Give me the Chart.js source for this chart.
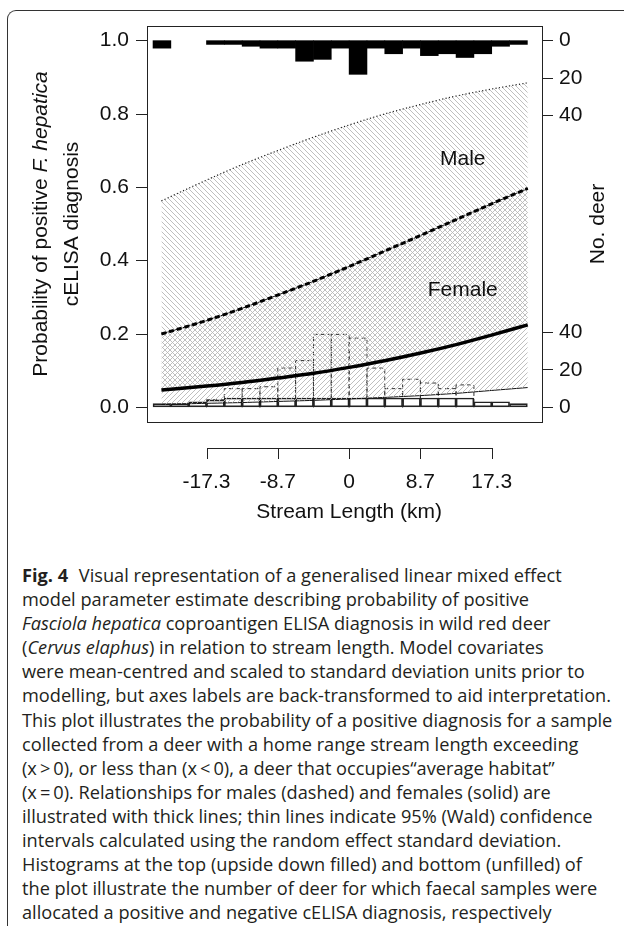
<!DOCTYPE html>
<html>
<head>
<meta charset="utf-8">
<script src="https://cdn.jsdelivr.net/npm/chart.js@4.4.1/dist/chart.umd.min.js"></script>
<style>
body { margin: 0; background: #fff; width: 624px; height: 932px; overflow: hidden; position: relative; }
#frame { position: absolute; left: 7px; top: 10px; width: 660px; height: 915px; border-left: 1.3px solid #333; border-top: 1.3px solid #333; border-top-left-radius: 9px; }
#c { position: absolute; left: 0; top: 0; }
#cap { position: absolute; left: 22px; top: 563px; font-family: "Open Sans"; font-size: 18.2px; letter-spacing: 0; line-height: 24.1px; color: #231f20; white-space: nowrap; }
#cap b { font-weight: 700; margin-right: 6px; }
</style>
</head>
<body>
<div id="frame"></div>
<canvas id="c" width="624" height="540"></canvas>
<div id="cap">
<div><b>Fig. 4</b> Visual representation of a generalised linear mixed effect</div>
<div>model parameter estimate describing probability of positive</div>
<div><i>Fasciola hepatica</i> coproantigen ELISA diagnosis in wild red deer</div>
<div>(<i>Cervus elaphus</i>) in relation to stream length. Model covariates</div>
<div>were mean-centred and scaled to standard deviation units prior to</div>
<div>modelling, but axes labels are back-transformed to aid interpretation.</div>
<div>This plot illustrates the probability of a positive diagnosis for a sample</div>
<div>collected from a deer with a home range stream length exceeding</div>
<div>(x&#8201;&gt;&#8201;0), or less than (x&#8201;&lt;&#8201;0), a deer that occupies&#8220;average habitat&#8221;</div>
<div>(x&#8201;=&#8201;0). Relationships for males (dashed) and females (solid) are</div>
<div>illustrated with thick lines; thin lines indicate 95% (Wald) confidence</div>
<div>intervals calculated using the random effect standard deviation.</div>
<div>Histograms at the top (upside down filled) and bottom (unfilled) of</div>
<div>the plot illustrate the number of deer for which faecal samples were</div>
<div>allocated a positive and negative cELISA diagnosis, respectively</div>
</div>
<script>
// stream length (km) where the fitted curves were read
var streamKm = [-22.8, -17.3, -13.0, -8.7, -4.3, 0, 4.3, 8.7, 13.0, 17.3, 21.7];
var maleFit = [0.200, 0.237, 0.270, 0.306, 0.344, 0.384, 0.426, 0.469, 0.512, 0.555, 0.597];
var maleUpper = [0.563, 0.620, 0.662, 0.700, 0.737, 0.770, 0.800, 0.826, 0.849, 0.868, 0.885];
var maleLower = [0.047, 0.058, 0.068, 0.080, 0.093, 0.109, 0.127, 0.148, 0.171, 0.197, 0.225];
var femaleFit = [0.047, 0.058, 0.068, 0.080, 0.093, 0.109, 0.127, 0.148, 0.171, 0.197, 0.225];
var femaleUpper = [0.200, 0.237, 0.270, 0.306, 0.344, 0.384, 0.426, 0.469, 0.512, 0.555, 0.597];
var femaleLower = [0.008, 0.011, 0.013, 0.016, 0.019, 0.023, 0.027, 0.032, 0.038, 0.046, 0.054];

// histogram bins (km) and deer counts
var binEdges = [-23.82, -21.65, -19.49, -17.32, -15.16, -12.99, -10.83, -8.66, -6.50, -4.33, -2.17,
                0, 2.17, 4.33, 6.50, 8.66, 10.83, 12.99, 15.16, 17.32, 19.49, 21.65];
var positiveCounts = [4, null, null, 2, 2, 3, 4, 4, 11, 10, 4, 18, 4, 7, 4, 8, 7, 9, 7, 3, 2];
var negativeSolid = [2, 2, 3, 4, 5, 5, 5, 5, 5, 5, 5, 5, 5, 5, 5, 5, 5, 5, 3, 3, 2];
var negativeDashed = [null, null, null, 4, 10, 10, 11, 21, 25, 39, 39, 37, 21, 10, 15, 13, 10, 12, null, null, null];

var probTicks = [0, 0.2, 0.4, 0.6, 0.8, 1.0];
var deerTicks = [0, 20, 40];
var xTicks = [-17.32, -8.66, 0, 8.66, 17.32];
var xTickLabels = ['-17.3', '-8.7', '0', '8.7', '17.3'];
var plotLabels = ['Male', 'Female'];
var labelX = [13.8, 13.8];
var labelY = [0.678, 0.32];

var deerUnit = 0.0051; // probability units per deer on the plot
var FONT = '"Liberation Sans", Arial, sans-serif';

var canvas = document.getElementById('c');
var ctx = canvas.getContext('2d');

function hatch(dir) {
  var t = document.createElement('canvas');
  t.width = 5; t.height = 5;
  var g = t.getContext('2d');
  g.strokeStyle = '#b8b8b8';
  g.lineWidth = 0.9;
  g.beginPath();
  if (dir > 0) {
    g.moveTo(0, 5); g.lineTo(5, 0);
    g.moveTo(-1, 1); g.lineTo(1, -1);
    g.moveTo(4, 6); g.lineTo(6, 4);
  } else {
    g.moveTo(0, 0); g.lineTo(5, 5);
    g.moveTo(-1, 4); g.lineTo(1, 6);
    g.moveTo(4, -1); g.lineTo(6, 1);
  }
  g.stroke();
  return ctx.createPattern(t, 'repeat');
}

function pts(ys) {
  return streamKm.map(function (x, i) { return { x: x, y: ys[i] }; });
}

var topBars = [], solidBars = [], dashedPath = [];
for (var i = 0; i < binEdges.length - 1; i++) {
  var mid = (binEdges[i] + binEdges[i + 1]) / 2;
  if (positiveCounts[i] != null) topBars.push({ x: mid, y: [1 - positiveCounts[i] * deerUnit, 1] });
  if (negativeSolid[i] != null) solidBars.push({ x: mid, y: [0, negativeSolid[i] * deerUnit] });
  if (negativeDashed[i] != null) {
    var h = negativeDashed[i] * deerUnit;
    dashedPath.push({ x: binEdges[i], y: 0 }, { x: binEdges[i], y: h },
                    { x: binEdges[i + 1], y: h }, { x: binEdges[i + 1], y: 0 });
  }
}

var rightTickValues = [];
var rightTickLabels = [];
deerTicks.forEach(function (d) { rightTickValues.push(1 - d * deerUnit); rightTickLabels.push(String(d)); });
deerTicks.slice().reverse().forEach(function (d) { rightTickValues.push(d * deerUnit); rightTickLabels.push(String(d)); });

var decor = {
  id: 'decor',
  afterDraw: function (chart) {
    var c = chart.ctx, a = chart.chartArea, xs = chart.scales.x, ys = chart.scales.y;
    c.save();
    c.strokeStyle = '#222';
    c.lineWidth = 1;
    c.strokeRect(Math.round(a.left) + 0.5, Math.round(a.top) + 0.5, Math.round(a.right - a.left), Math.round(a.bottom - a.top));

    // stream length axis, set below the box
    var y0 = Math.round(a.bottom) + 26;
    var x1 = xs.getPixelForValue(xTicks[0]);
    var x2 = xs.getPixelForValue(xTicks[xTicks.length - 1]);
    c.beginPath();
    c.moveTo(Math.round(x1) + 0.5, y0 + 0.5);
    c.lineTo(Math.round(x2) + 0.5, y0 + 0.5);
    xTicks.forEach(function (v) {
      var p = Math.round(xs.getPixelForValue(v)) + 0.5;
      c.moveTo(p, y0);
      c.lineTo(p, y0 + 11);
    });
    c.stroke();
    c.fillStyle = '#111';
    c.font = '21px ' + FONT;
    c.textAlign = 'center';
    c.textBaseline = 'middle';
    xTicks.forEach(function (v, i) { c.fillText(xTickLabels[i], xs.getPixelForValue(v), y0 + 34); });
    c.fillText('Stream Length (km)', (x1 + x2) / 2, y0 + 64);

    plotLabels.forEach(function (t, i) {
      c.fillText(t, xs.getPixelForValue(labelX[i]), ys.getPixelForValue(labelY[i]));
    });

    var cy = (a.top + a.bottom) / 2;
    function vtext(parts, cx) {
      c.save();
      c.translate(cx, cy);
      c.rotate(-Math.PI / 2);
      c.textAlign = 'left';
      var w = 0;
      parts.forEach(function (p) { c.font = p[1] + '21px ' + FONT; w += c.measureText(p[0]).width; });
      var x = -w / 2;
      parts.forEach(function (p) { c.font = p[1] + '21px ' + FONT; c.fillText(p[0], x, 0); x += c.measureText(p[0]).width; });
      c.restore();
    }
    vtext([['Probability of positive ', ''], ['F. hepatica', 'italic ']], 41);
    vtext([['cELISA diagnosis', '']], 72);
    vtext([['No. deer', '']], 598);
    c.restore();
  }
};

new Chart(ctx, {
  type: 'line',
  data: {
    datasets: [
      { label: 'Male upper CI', data: pts(maleUpper), borderColor: '#222', borderWidth: 1.2, borderDash: [1.2, 2.2],
        fill: 1, backgroundColor: hatch(-1), cubicInterpolationMode: 'monotone', order: 1 },
      { label: 'Male lower CI', data: pts(maleLower), borderColor: 'rgba(0,0,0,0)', borderWidth: 0,
        cubicInterpolationMode: 'monotone', order: 1 },
      { label: 'Female upper CI', data: pts(femaleUpper), borderColor: '#111', borderWidth: 1,
        fill: 3, backgroundColor: hatch(1), cubicInterpolationMode: 'monotone', order: 1 },
      { label: 'Female lower CI', data: pts(femaleLower), borderColor: '#111', borderWidth: 1,
        cubicInterpolationMode: 'monotone', order: 1 },
      { label: 'Male', data: pts(maleFit), borderColor: '#000', borderWidth: 3, borderDash: [5, 3],
        cubicInterpolationMode: 'monotone', order: 0 },
      { label: 'Female', data: pts(femaleFit), borderColor: '#000', borderWidth: 3.5,
        cubicInterpolationMode: 'monotone', order: 0 },
      { type: 'bar', label: 'Positive', data: topBars, backgroundColor: '#000', borderWidth: 0,
        grouped: false, barPercentage: 1, categoryPercentage: 1, order: 2 },
      { type: 'bar', label: 'Negative', data: solidBars, backgroundColor: 'rgba(0,0,0,0)', borderColor: '#222',
        borderWidth: 1, borderSkipped: false, grouped: false, barPercentage: 1, categoryPercentage: 1, order: 2 },
      { label: 'Negative (dashed)', data: dashedPath, borderColor: '#333', borderWidth: 1, borderDash: [4, 3],
        tension: 0, fill: false, order: 2 }
    ]
  },
  options: {
    responsive: false,
    animation: false,
    devicePixelRatio: 1,
    layout: { padding: { top: 26, bottom: 118, left: 0, right: 0 } },
    elements: { point: { radius: 0 }, line: { fill: false } },
    plugins: { legend: { display: false }, tooltip: { enabled: false } },
    scales: {
      x: { type: 'linear', min: -24.55, max: 23.43, display: false, offset: false },
      y: {
        type: 'linear', position: 'left', min: -0.04, max: 1.04,
        afterFit: function (s) { s.width = 147; },
        afterBuildTicks: function (s) { s.ticks = probTicks.map(function (v) { return { value: v }; }); },
        ticks: { callback: function (v) { return v.toFixed(1); }, font: { family: FONT, size: 21 }, color: '#111', padding: 7, autoSkip: false },
        grid: { drawOnChartArea: false, tickLength: 11, color: '#222', lineWidth: 1 },
        border: { display: false }
      },
      y2: {
        type: 'linear', position: 'right', min: -0.04, max: 1.04,
        afterFit: function (s) { s.width = 82; },
        afterBuildTicks: function (s) { s.ticks = rightTickValues.map(function (v) { return { value: v }; }); },
        ticks: { callback: function (v, i) { return rightTickLabels[i]; }, font: { family: FONT, size: 21 }, color: '#111', padding: 6, autoSkip: false },
        grid: { drawOnChartArea: false, tickLength: 11, color: '#222', lineWidth: 1 },
        border: { display: false }
      }
    }
  },
  plugins: [decor]
});
</script>
</body>
</html>
